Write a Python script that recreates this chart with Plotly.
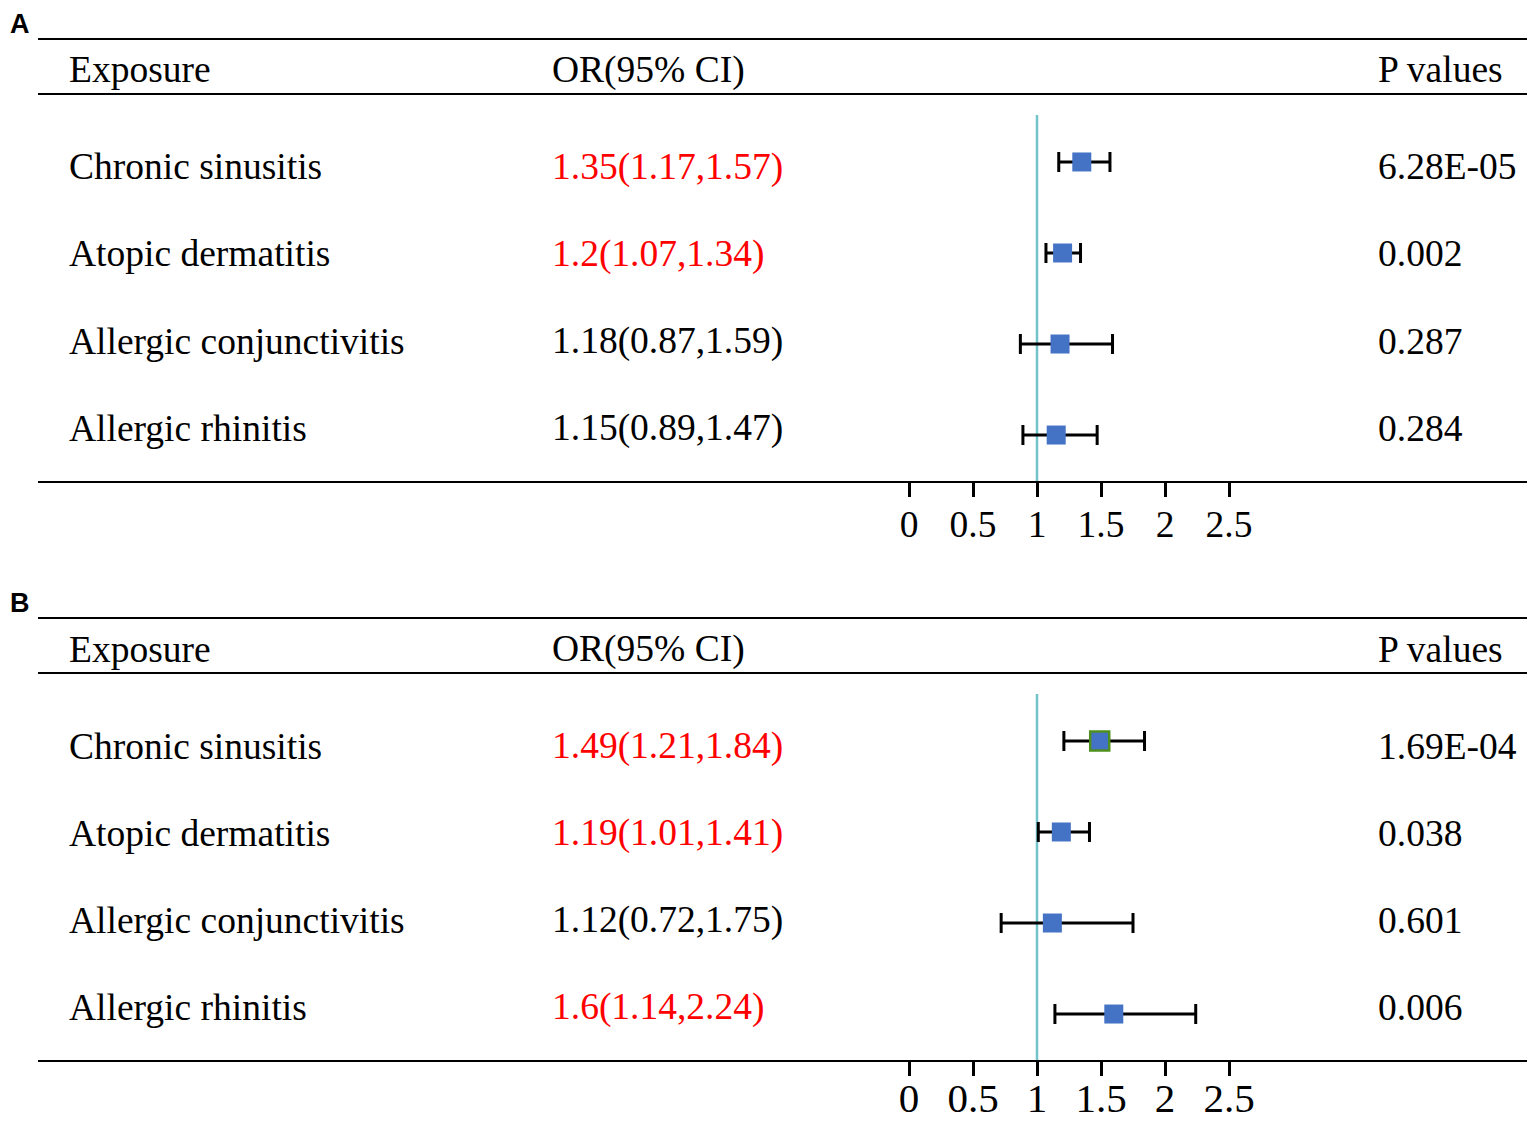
import plotly.graph_objects as go

# The page body has an 8px default margin, so the figure is drawn offset by 8px.
OFF = 8
W, H = 1535 - OFF, 1121 - OFF

exposures = ["Chronic sinusitis", "Atopic dermatitis", "Allergic conjunctivitis", "Allergic rhinitis"]

# Panel A
or_a = [1.35, 1.20, 1.18, 1.15]
lo_a = [1.17, 1.07, 0.87, 0.89]
hi_a = [1.57, 1.34, 1.59, 1.47]
ci_text_a = ["1.35(1.17,1.57)", "1.2(1.07,1.34)", "1.18(0.87,1.59)", "1.15(0.89,1.47)"]
p_text_a = ["6.28E-05", "0.002", "0.287", "0.284"]
sig_a = [True, True, False, False]

# Panel B
or_b = [1.49, 1.19, 1.12, 1.60]
lo_b = [1.21, 1.01, 0.72, 1.14]
hi_b = [1.84, 1.41, 1.75, 2.24]
ci_text_b = ["1.49(1.21,1.84)", "1.19(1.01,1.41)", "1.12(0.72,1.75)", "1.6(1.14,2.24)"]
p_text_b = ["1.69E-04", "0.038", "0.601", "0.006"]
sig_b = [True, True, False, True]
highlight_b = [True, False, False, False]

tick_vals = [0, 0.5, 1, 1.5, 2, 2.5]
tick_text = ["0", "0.5", "1", "1.5", "2", "2.5"]

SERIF = "Liberation Serif"
BLUE = "#4472C4"
RED = "#FF0000"
TEAL = "#72C4C9"
FS = 37.5
PAD = 3  # annotation inner padding


def py(px):
    return 1 - (px - OFF) / H


def pxx(px):
    return (px - OFF) / W


fig = go.Figure()

panels = [
    dict(label="A", off=0, orv=or_a, lo=lo_a, hi=hi_a, ci=ci_text_a, p=p_text_a, sig=sig_a,
         hl=[False] * 4, xa="x", ya="y", tickfs=37.5, standoff=-5),
    dict(label="B", off=579, orv=or_b, lo=lo_b, hi=hi_b, ci=ci_text_b, p=p_text_b, sig=sig_b,
         hl=highlight_b, xa="x2", ya="y2", tickfs=41, standoff=-13),
]

rows = [4, 3, 2, 1]
x_left, x_right = 38, 1528
x0_px, unit_px = 909, 128

annotations = []
shapes = []

for i, P in enumerate(panels):
    o = P["off"]
    fig.add_trace(go.Scatter(
        x=P["orv"], y=rows, mode="markers",
        marker=dict(symbol="square", size=19, color=BLUE,
                    line=dict(color=["#4E8F1E" if h else BLUE for h in P["hl"]],
                              width=[2.5 if h else 0 for h in P["hl"]])),
        error_x=dict(type="data", symmetric=False,
                     array=[h - v for h, v in zip(P["hi"], P["orv"])],
                     arrayminus=[v - l for v, l in zip(P["orv"], P["lo"])],
                     color="black", thickness=3, width=10),
        xaxis=P["xa"], yaxis=P["ya"], showlegend=False, hoverinfo="skip",
    ))

    axname = "xaxis" if i == 0 else "xaxis2"
    ayname = "yaxis" if i == 0 else "yaxis2"
    bottom_px = 481 + o
    top_px = 115 + o
    fig.update_layout(**{
        axname: dict(
            domain=[pxx(x_left), pxx(x_right)],
            range=[(x_left - x0_px) / unit_px, (x_right - x0_px) / unit_px],
            anchor=P["ya"], showline=True, linecolor="black", linewidth=2,
            ticks="outside", ticklen=14, tickwidth=2.5, tickcolor="black",
            tickvals=tick_vals, ticktext=tick_text, showgrid=False, zeroline=False,
            tickfont=dict(family=SERIF, size=P["tickfs"], color="black"),
            ticklabelstandoff=P["standoff"],
            fixedrange=True, automargin=False,
        ),
        ayname: dict(
            domain=[py(bottom_px), py(top_px)],
            range=[0.495, 4.516], anchor=P["xa"], visible=False, fixedrange=True,
            automargin=False,
        ),
    })

    # reference line at OR=1
    shapes.append(dict(type="line", xref=P["xa"], yref=P["ya"] + " domain",
                       x0=1, x1=1, y0=0, y1=1, line=dict(color=TEAL, width=2.5), layer="below"))
    # table lines
    for ly in (39 + o, 94 + o):
        shapes.append(dict(type="line", xref="paper", yref="paper",
                           x0=pxx(x_left), x1=pxx(x_right), y0=py(ly), y1=py(ly),
                           line=dict(color="black", width=2)))

    # panel label
    annotations.append(dict(text="<b>%s</b>" % P["label"], xref="paper", yref="paper",
                            x=pxx(20), y=py(24 + o), xanchor="center", yanchor="middle",
                            showarrow=False, borderpad=0,
                            font=dict(family="Liberation Sans", size=27, color="black")))
    # headers
    for txt, hx in (("Exposure", 70), ("OR(95% CI)", 553), ("P values", 1379)):
        annotations.append(dict(text=txt, xref="paper", yref="paper", x=pxx(hx - PAD), y=py(70 + o),
                                xanchor="left", yanchor="middle", showarrow=False,
                                font=dict(family=SERIF, size=FS, color="black")))
    # row texts
    for r in range(4):
        ty = py(167 + 87 * r + o)
        annotations.append(dict(text=exposures[r], xref="paper", yref="paper", x=pxx(70 - PAD), y=ty,
                                xanchor="left", yanchor="middle", showarrow=False,
                                font=dict(family=SERIF, size=FS, color="black")))
        annotations.append(dict(text=P["ci"][r], xref="paper", yref="paper", x=pxx(553 - PAD), y=ty,
                                xanchor="left", yanchor="middle", showarrow=False,
                                font=dict(family=SERIF, size=FS, color=RED if P["sig"][r] else "black")))
        annotations.append(dict(text=P["p"][r], xref="paper", yref="paper", x=pxx(1379 - PAD), y=ty,
                                xanchor="left", yanchor="middle", showarrow=False,
                                font=dict(family=SERIF, size=FS, color="black")))

fig.update_layout(
    width=W, height=H, margin=dict(l=0, r=0, t=0, b=0, pad=0),
    paper_bgcolor="white", plot_bgcolor="white",
    shapes=shapes, annotations=annotations, showlegend=False,
)

fig.write_html("out.html")
